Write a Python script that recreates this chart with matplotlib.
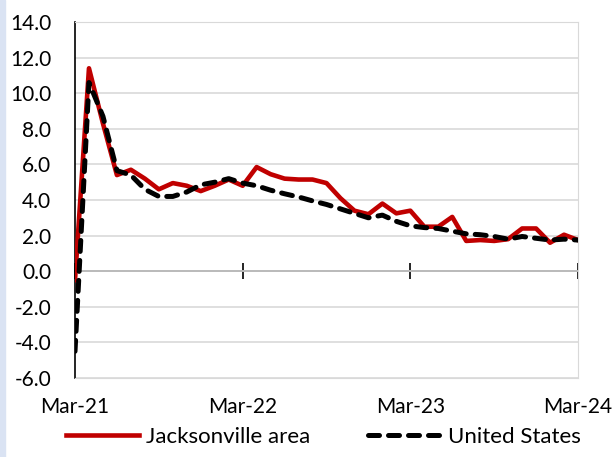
import matplotlib
matplotlib.use("Agg")
import matplotlib.pyplot as plt
import numpy as np
from matplotlib.patches import Rectangle

plt.rcParams['font.family'] = ['Lato', 'DejaVu Sans']

# monthly data, Mar-21 .. Mar-24
tick_labels = ['Mar-21', 'Mar-22', 'Mar-23', 'Mar-24']
jax = [-0.5, 11.4, 8.3, 5.4, 5.7, 5.2, 4.6, 4.95, 4.8, 4.5, 4.8, 5.15, 4.8,
       5.85, 5.45, 5.2, 5.15, 5.15, 4.95, 4.1, 3.4, 3.2, 3.8, 3.25, 3.4,
       2.5, 2.5, 3.05, 1.7, 1.75, 1.7, 1.8, 2.4, 2.4, 1.6, 2.05, 1.75]
us = [-4.5, 10.6, 8.7, 5.65, 5.4, 4.6, 4.2, 4.2, 4.45, 4.85, 5.0, 5.2, 4.95,
      4.8, 4.55, 4.35, 4.17, 3.95, 3.75, 3.5, 3.25, 3.0, 3.15, 2.8, 2.55,
      2.45, 2.4, 2.25, 2.1, 2.05, 1.95, 1.8, 1.95, 1.85, 1.75, 1.8, 1.75]
x = np.arange(len(jax))

fig = plt.figure(figsize=(6.16, 4.57), dpi=100)
ax = fig.add_axes([75/616, 79/457, 503/616, 356/457])

ax.plot(x, jax, color='#C00000', lw=3.3, label='Jacksonville area', zorder=3)
ax.plot(x, us, color='black', lw=3.6, ls=(0, (2.2, 1.8)),
        dash_capstyle='round', label='United States', zorder=4)

ax.set_xlim(0, 36)
ax.set_ylim(-6, 14)
ax.set_yticks(np.arange(-6, 15, 2))
ax.set_yticklabels([f'{v:.1f}' for v in np.arange(-6, 15, 2)])
ax.yaxis.grid(True, color='#D9D9D9', lw=1.2)
ax.set_axisbelow(True)
ax.tick_params(axis='y', length=0, pad=17, labelsize=15)

ax.set_xticks([0, 12, 24, 36])
ax.set_xticklabels(tick_labels)
ax.tick_params(axis='x', length=0, pad=14, labelsize=15)

for s in ['top', 'right', 'bottom']:
    ax.spines[s].set_color('#D9D9D9')
ax.spines['left'].set_color('black')
ax.spines['left'].set_linewidth(1.2)

# zero axis with crossing tick marks
sec = ax.secondary_xaxis(0.3)
sec.set_xticks([0, 12, 24, 36])
sec.set_xticklabels([])
sec.tick_params(direction='inout', length=12, width=1.2, color='black')
sec.spines['bottom'].set_color('black')
sec.spines['bottom'].set_linewidth(1.2)

fig.legend(loc='center', bbox_to_anchor=(0.525, 0.044), ncol=2, frameon=False,
           fontsize=16, handlelength=3.3, columnspacing=2.6, handletextpad=0.3)

fig.patches.append(Rectangle((0, 0), 5/616, 1, transform=fig.transFigure,
                             color='#DAE3F3', zorder=0))

fig.savefig('out.png', dpi=100)
